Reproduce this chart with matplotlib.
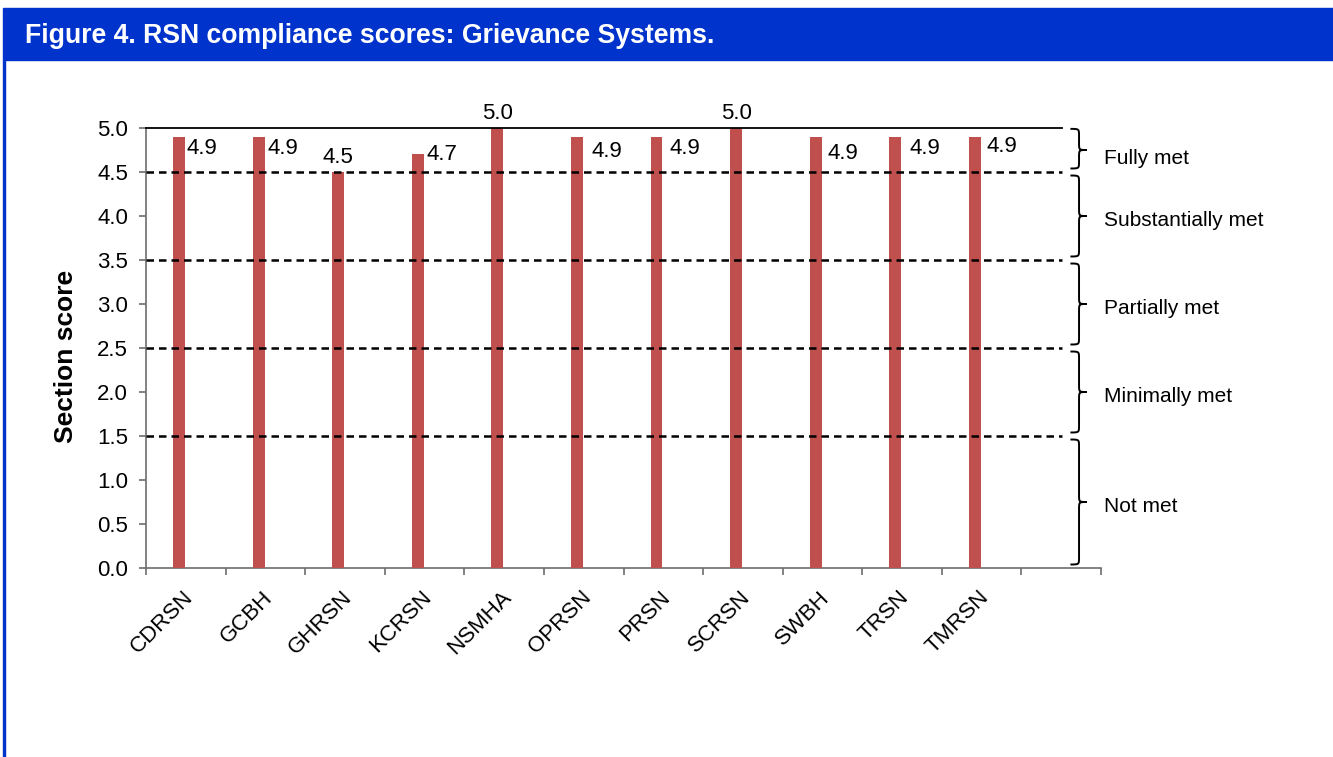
import matplotlib.pyplot as plt
import numpy as np
from matplotlib.path import Path
from matplotlib.patches import PathPatch, Rectangle
from matplotlib.transforms import blended_transform_factory

plt.rcParams['font.family'] = ['Liberation Sans', 'DejaVu Sans']

# data
rsn = ['CDRSN', 'GCBH', 'GHRSN', 'KCRSN', 'NSMHA', 'OPRSN', 'PRSN', 'SCRSN', 'SWBH', 'TRSN', 'TMRSN']
scores = [4.9, 4.9, 4.5, 4.7, 5.0, 4.9, 4.9, 5.0, 4.9, 4.9, 4.9]
bands = ['Fully met', 'Substantially met', 'Partially met', 'Minimally met', 'Not met']
cuts = [5.0, 4.5, 3.5, 2.5, 1.5, 0.0]

# label placement (Excel hand-moved labels): side, and nudge in px (right, down)
label_side = ['right', 'right', 'above', 'right', 'above', 'right', 'right', 'above', 'right', 'right', 'right']
label_nudge = [(2, 0), (3, 0), (0, 0), (3, -11), (0, 0), (9, 3), (7, 0), (0, 0), (6, 5), (8, 0), (6, -2)]

fig = plt.figure(figsize=(13.33, 7.57), dpi=100)
PT = 72 / fig.dpi

# blue header + border
fig.patches.append(Rectangle((3 / 1333, 1 - 60 / 757), 1, 52 / 757, transform=fig.transFigure,
                             color='#0033cc', zorder=0))
fig.patches.append(Rectangle((3 / 1333, 0), 2 / 1333, 1 - 60 / 757, transform=fig.transFigure,
                             color='#0033cc', zorder=0))
fig.text(25 / 1333, 1 - 36 / 757, 'Figure 4. RSN compliance scores: Grievance Systems.',
         color='white', fontsize=19.2, fontweight='bold', va='center', ha='left')

ax = fig.add_axes([146 / 1333, 189 / 757, 955 / 1333, 440 / 757])

n_slots = len(rsn) + 1
x = np.arange(len(rsn))
off = -0.085
w = 0.15
ax.bar(x + off, scores, w, color='#c0504d', zorder=3)

for xi, v, side, (nx, ny) in zip(x, scores, label_side, label_nudge):
    if side == 'right':
        ax.annotate(f'{v:.1f}', (xi + off + w / 2, v), xytext=(nx * PT, (-1 - ny) * PT),
                    textcoords='offset points', ha='left', va='top', fontsize=16)
    else:
        ax.annotate(f'{v:.1f}', (xi + off, v), xytext=(0, 3), textcoords='offset points',
                    ha='center', va='bottom', fontsize=16)

ax.set_xlim(-0.5, n_slots - 0.5)
ax.set_ylim(0, 5)

# band boundaries
ax.axhline(cuts[0], xmin=0, xmax=0.959, color='black', lw=1.3, zorder=4, clip_on=False)
for c in cuts[1:-1]:
    ax.axhline(c, xmin=0, xmax=0.959, color='black', lw=1.8, ls=(0, (3, 2)), zorder=4)

# braces
tr = blended_transform_factory(ax.transAxes, ax.transData)
xl, xm, xt = 0.968, 0.977, 0.985
r = 0.08
for i, name in enumerate(bands):
    top = cuts[i] - (0.01 if i == 0 else 0.04)
    bot = cuts[i + 1] + 0.04
    mid = (cuts[i] + cuts[i + 1]) / 2
    verts = [(xl, top), (xm, top), (xm, top), (xm, top - r),
             (xm, mid + r),
             (xm, mid), (xm, mid), (xt, mid),
             (xm, mid), (xm, mid), (xm, mid - r),
             (xm, bot + r),
             (xm, bot), (xm, bot), (xl, bot)]
    codes = [Path.MOVETO, Path.CURVE4, Path.CURVE4, Path.CURVE4,
             Path.LINETO,
             Path.CURVE4, Path.CURVE4, Path.CURVE4,
             Path.CURVE4, Path.CURVE4, Path.CURVE4,
             Path.LINETO,
             Path.CURVE4, Path.CURVE4, Path.CURVE4]
    ax.add_patch(PathPatch(Path(verts, codes), transform=tr, fill=False, lw=1.4,
                           edgecolor='black', clip_on=False))
    dy = -0.1 if i == 0 else -0.05
    ax.text(1.003, mid + dy, name, transform=tr, ha='left', va='center', fontsize=15)

# axes styling
for s in ['top', 'right']:
    ax.spines[s].set_visible(False)
for s in ['left', 'bottom']:
    ax.spines[s].set_color('#6d6d6d')
    ax.spines[s].set_linewidth(1.2)

ax.set_yticks(np.arange(0, 5.01, 0.5))
ax.set_yticklabels([f'{t:.1f}' for t in np.arange(0, 5.01, 0.5)])
ax.tick_params(axis='y', length=5, width=1.2, color='#6d6d6d', labelsize=16, pad=8)

ax.set_xticks(np.arange(n_slots + 1) - 0.5, minor=False)
ax.set_xticklabels([])
ax.tick_params(axis='x', length=5, width=1.2, color='#6d6d6d')
for xi, name in zip(x, rsn):
    ax.annotate(name, (xi + 0.05, 0), xytext=(0, -19), textcoords='offset points',
                rotation=45, ha='right', va='center', rotation_mode='anchor', fontsize=16,
                annotation_clip=False)

ax.set_ylabel('Section score', fontsize=19, fontweight='bold')
ax.yaxis.set_label_coords(-0.071, 0.48)

fig.savefig('out.png', dpi=100)
